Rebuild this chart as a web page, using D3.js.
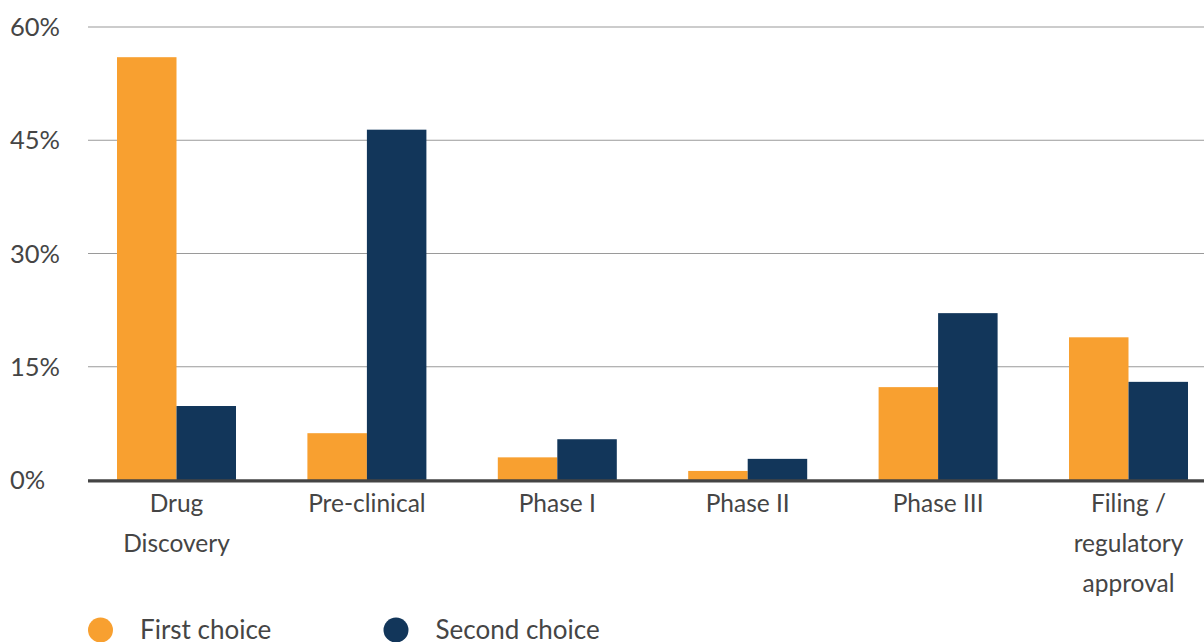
<!DOCTYPE html>
<html>
<head>
<meta charset="utf-8">
<script src="https://cdn.jsdelivr.net/npm/d3@7"></script>
<style>
  html, body { margin: 0; padding: 0; background: #ffffff; }
  svg { display: block; font-family: Lato, "Open Sans", sans-serif; }
</style>
</head>
<body>
<svg id="chart" width="1204" height="642"></svg>
<script>
// Development stage at which respondents place the first / second choice
const categories = [
  ["Drug", "Discovery"],
  ["Pre-clinical"],
  ["Phase I"],
  ["Phase II"],
  ["Phase III"],
  ["Filing /", "regulatory", "approval"]
];
const seriesNames = ["First choice", "Second choice"];
const firstChoice  = [56.0, 6.2, 3.0, 1.2, 12.3, 18.9];
const secondChoice = [9.8, 46.4, 5.4, 2.8, 22.1, 13.0];
const yTicks = [0, 15, 30, 45, 60];
const tickLabels = ["0%", "15%", "30%", "45%", "60%"];

const colors = ["#F8A030", "#12365A"];
const textColor = "#454545";

const svg = d3.select("#chart");
const W = 1204;

const catKeys = categories.map(c => c.join(" "));
const x = d3.scaleBand()
  .domain(catKeys)
  .range([81.3, 1223.7])
  .paddingInner(0.375)
  .paddingOuter(0.1875);
const xs = d3.scaleBand()
  .domain(seriesNames)
  .range([0, x.bandwidth()])
  .padding(0);
const y = d3.scaleLinear().domain([0, 60]).range([480, 27]);

// Horizontal grid lines and y tick labels
const yAxis = svg.append("g");
yAxis.selectAll("line.grid")
  .data(yTicks.filter(t => t > 0))
  .join("line")
  .attr("class", "grid")
  .attr("x1", 88).attr("x2", W)
  .attr("y1", d => y(d)).attr("y2", d => y(d))
  .attr("stroke", "#9a9a9a")
  .attr("stroke-width", 1.2);
yAxis.selectAll("text")
  .data(yTicks)
  .join("text")
  .attr("x", 10)
  .attr("y", d => y(d))
  .attr("dy", "0.36em")
  .attr("fill", textColor)
  .attr("font-size", 25.5)
  .text((d, i) => tickLabels[i]);

// Bars
const rows = catKeys.map((k, i) => ({ key: k, values: [firstChoice[i], secondChoice[i]] }));
const groups = svg.append("g").selectAll("g")
  .data(rows)
  .join("g")
  .attr("transform", d => `translate(${x(d.key)},0)`);
groups.selectAll("rect")
  .data(d => d.values.map((v, j) => ({ name: seriesNames[j], value: v, j })))
  .join("rect")
  .attr("x", d => xs(d.name))
  .attr("width", xs.bandwidth())
  .attr("y", d => y(d.value))
  .attr("height", d => y(0) - y(d.value))
  .attr("fill", d => colors[d.j]);

// Baseline
svg.append("line")
  .attr("x1", 88).attr("x2", W)
  .attr("y1", y(0) + 0.8).attr("y2", y(0) + 0.8)
  .attr("stroke", "#444444")
  .attr("stroke-width", 3.2);

// Category labels (multi-line)
const labels = svg.append("g").selectAll("text")
  .data(categories)
  .join("text")
  .attr("x", (d, i) => x(catKeys[i]) + x.bandwidth() / 2)
  .attr("y", 512)
  .attr("text-anchor", "middle")
  .attr("fill", textColor)
  .attr("font-size", 24.5);
labels.selectAll("tspan")
  .data(d => d)
  .join("tspan")
  .attr("x", function () { return this.parentNode.getAttribute("x"); })
  .attr("dy", (d, i) => i === 0 ? 0 : 40)
  .text(d => d);

// Legend
const legendX = [100.5, 396];
const legend = svg.append("g").selectAll("g")
  .data(seriesNames)
  .join("g")
  .attr("transform", (d, i) => `translate(${legendX[i]},630)`);
legend.append("circle")
  .attr("r", 12.5)
  .attr("fill", (d, i) => colors[i]);
legend.append("text")
  .attr("x", 39.5)
  .attr("dy", "0.36em")
  .attr("fill", textColor)
  .attr("font-size", 26)
  .text(d => d);
</script>
</body>
</html>
